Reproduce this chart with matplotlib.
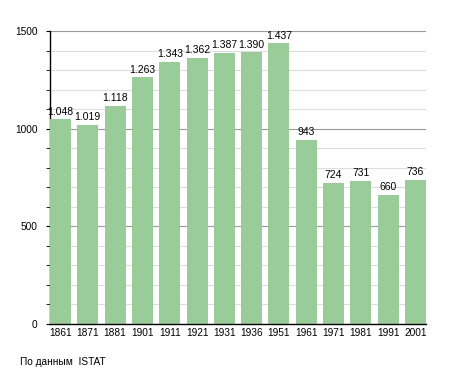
import matplotlib
matplotlib.use('Agg')
import matplotlib.pyplot as plt
from matplotlib.ticker import MultipleLocator

plt.rcParams['font.family'] = ['Liberation Sans', 'DejaVu Sans']

years = ['1861', '1871', '1881', '1901', '1911', '1921', '1931',
         '1936', '1951', '1961', '1971', '1981', '1991', '2001']
population = [1048, 1019, 1118, 1263, 1343, 1362, 1387,
              1390, 1437, 943, 724, 731, 660, 736]

fig = plt.figure(figsize=(4.55, 3.73), dpi=100)
ax = fig.add_axes([50 / 455, 49 / 373, 376 / 455, 293 / 373])

w = 0.77
x = range(len(years))
ax.bar(x, population, width=w, color='#99cc99', zorder=3)

ax.set_xlim(-w / 2, len(years) - 1 + w / 2)
ax.set_ylim(0, 1500)
ax.yaxis.set_major_locator(MultipleLocator(500))
ax.yaxis.set_minor_locator(MultipleLocator(100))

# griglia: chiara ogni 100, più scura ogni 500
ax.grid(which='minor', axis='y', color='#dddddd', linewidth=0.8, zorder=0)
ax.grid(which='major', axis='y', color='#999999', linewidth=0.8, zorder=1)

for s in ['top', 'right']:
    ax.spines[s].set_visible(False)
ax.spines['left'].set_linewidth(1.0)
ax.spines['bottom'].set_linewidth(1.0)
ax.spines['bottom'].set_zorder(4)

ax.set_xticks(list(x))
ax.set_xticklabels(years, fontsize=7.3)
ax.tick_params(axis='x', length=0, pad=3)
ax.tick_params(axis='y', which='major', length=3, labelsize=7.3, pad=6)
ax.tick_params(axis='y', which='minor', length=3)

for i, v in enumerate(population):
    lab = '{:,}'.format(v).replace(',', '.')
    ax.annotate(lab, (i, v), xytext=(0, 2), textcoords='offset points',
                ha='center', va='bottom', fontsize=7.5, zorder=5)

fig.text(20 / 455, 1 - 362 / 373, 'По данным  ISTAT', fontsize=7.3,
         ha='left', va='center')

fig.savefig('out.png', dpi=100)
